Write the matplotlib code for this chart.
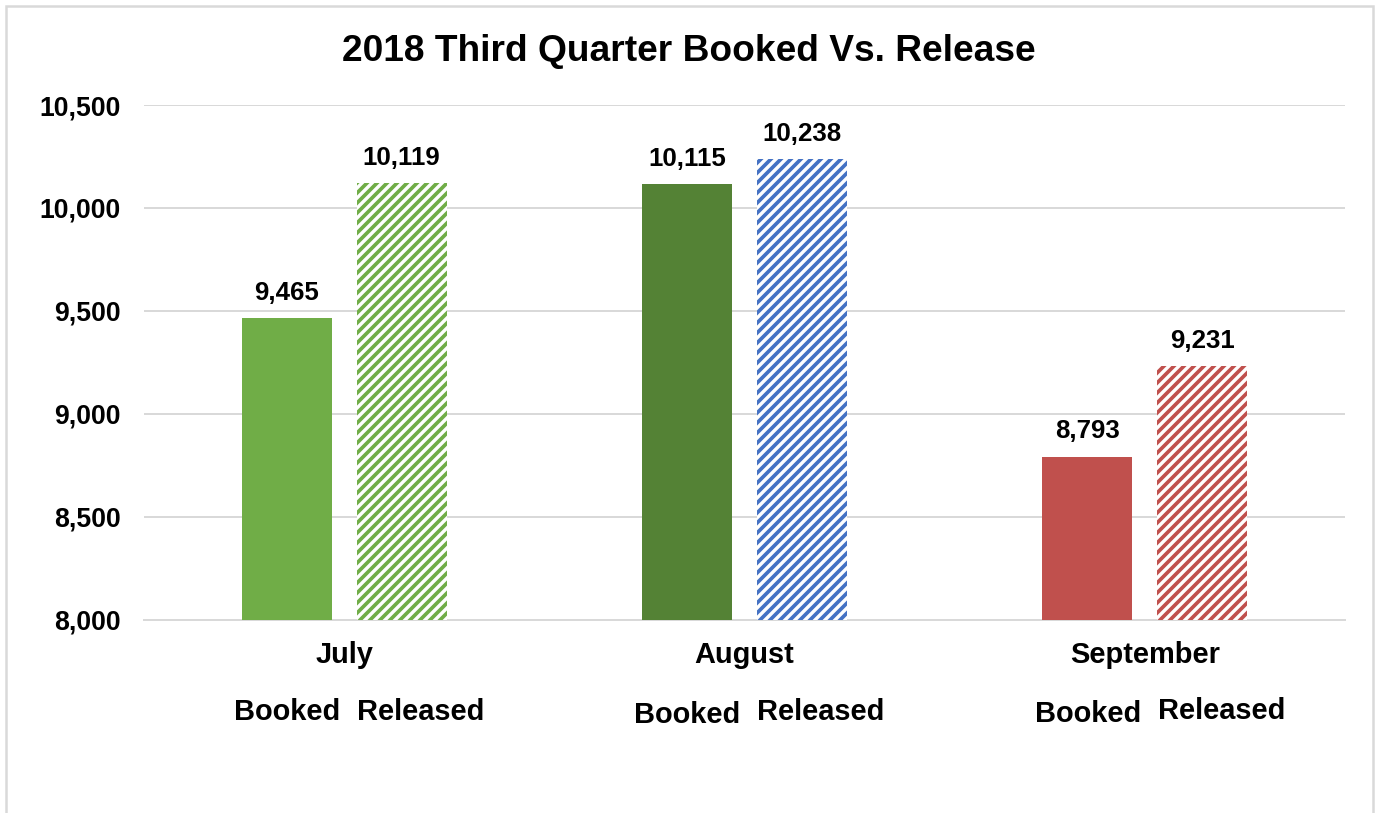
import matplotlib
matplotlib.use("Agg")
import matplotlib.pyplot as plt
import matplotlib.transforms as mtransforms
from matplotlib.patches import Rectangle
import numpy as np

months = ["July", "August", "September"]
booked = [9465, 10115, 8793]
released = [10119, 10238, 9231]
booked_colors = ["#70AD47", "#548235", "#C0504D"]
released_colors = ["#70AD47", "#4472C4", "#C0504D"]
y_ticks = [8000, 8500, 9000, 9500, 10000, 10500]

W, H, DPI = 1376, 813, 120
plt.rcParams['font.family'] = ['Liberation Sans', 'DejaVu Sans']
plt.rcParams['font.weight'] = 'bold'
plt.rcParams['hatch.linewidth'] = 2.2

fig = plt.figure(figsize=(W / DPI, H / DPI), dpi=DPI)
ax = fig.add_axes([144 / W, 1 - 620 / H, 1201 / W, 515 / H])

x = np.arange(len(months))
off = 0.14375
bw = 0.225

b1 = ax.bar(x - off, booked, width=bw, color=booked_colors, linewidth=0, zorder=3)
b2 = ax.bar(x + off, released, width=bw, color="white", edgecolor=released_colors,
            hatch="////", linewidth=0, zorder=3)

for bars, vals in [(b1, booked), (b2, released)]:
    for rect, v in zip(bars, vals):
        ax.annotate(f"{v:,}", (rect.get_x() + rect.get_width() / 2, v),
                    xytext=(0, 11), textcoords="offset points",
                    ha="center", va="baseline", fontsize=15.5, fontweight="bold")

ax.set_xlim(-0.5, 2.5)
ax.set_ylim(8000, 10500)
ax.set_yticks(y_ticks)
ax.set_yticklabels([f"{t:,}" for t in y_ticks])
ax.tick_params(axis="y", length=0, pad=13.8, labelsize=16)
ax.set_xticks([])
ax.grid(axis="y", color="#D9D9D9", linewidth=1.2, zorder=0)
for s in ["top", "right", "left"]:
    ax.spines[s].set_visible(False)
ax.spines["bottom"].set_color("#D9D9D9")
ax.spines["bottom"].set_linewidth(1.2)

trans = mtransforms.blended_transform_factory(ax.transData, fig.transFigure)
booked_base = [720, 723, 722]
released_base = [720, 720, 719]
for i, m in enumerate(months):
    ax.text(i, 1 - 663 / H, m, transform=trans, ha="center", va="baseline",
            fontsize=17.4, fontweight="bold")
    ax.text(i - 0.01, 1 - booked_base[i] / H, "Booked", transform=trans,
            ha="right", va="baseline", fontsize=17.4, fontweight="bold")
    ax.text(i + 0.032, 1 - released_base[i] / H, "Released", transform=trans,
            ha="left", va="baseline", fontsize=17.4, fontweight="bold")

fig.text(689 / W, 1 - 61 / H, "2018 Third Quarter Booked Vs. Release",
         ha="center", va="baseline", fontsize=22.3, fontweight="bold")

fig.patches.append(Rectangle((6 / W, -0.1), 1367 / W, 1.1 - 6 / H,
                             transform=fig.transFigure, fill=False,
                             edgecolor="#D9D9D9", linewidth=1.5))

fig.savefig("out.png", dpi=DPI)
